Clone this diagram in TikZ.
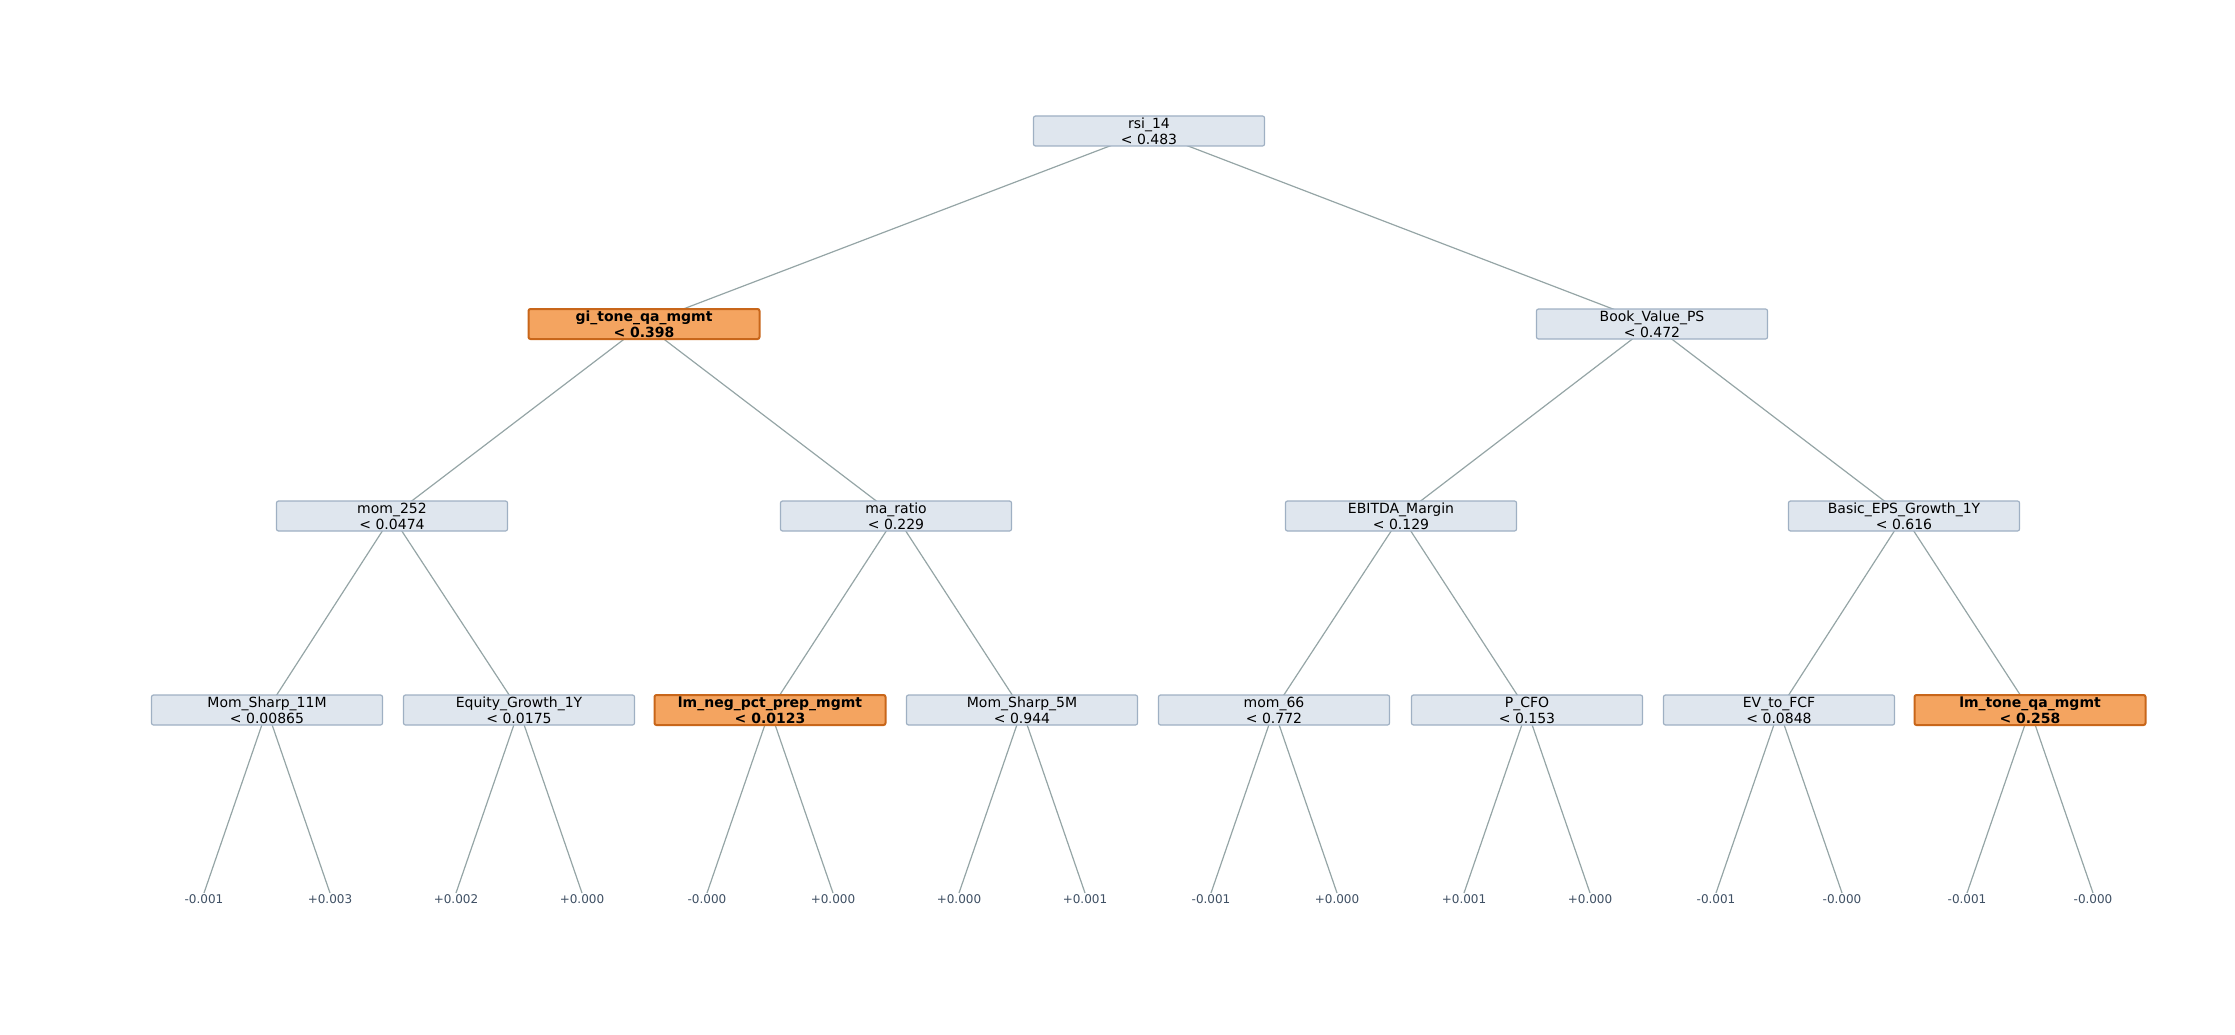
\documentclass[tikz,border=0pt]{standalone}
\usepackage{fontspec}
\setmainfont{DejaVu Sans}
\usetikzlibrary{backgrounds}
\definecolor{boxfill}{HTML}{DFE6EE}
\definecolor{boxline}{HTML}{9FB0C3}
\definecolor{hotfill}{HTML}{F4A460}
\definecolor{hotline}{HTML}{C8661A}
\definecolor{edgecol}{HTML}{95A5A6}
\definecolor{leafcol}{HTML}{3E4F63}
\tikzset{
  split/.style={draw=boxline, fill=boxfill, rounded corners=2pt, line width=1.2pt,
    minimum width=231pt, minimum height=30pt, inner sep=0pt, align=center,
    font=\fontsize{14}{16}\selectfont},
  hot/.style={split, draw=hotline, fill=hotfill, line width=2pt,
    font=\fontsize{14}{16}\selectfont\bfseries},
  leaf/.style={text=leafcol, font=\fontsize{12}{14}\selectfont, inner sep=1pt},
  edge/.style={draw=edgecol, line width=1.2pt}
}
\begin{document}
\begin{tikzpicture}[x=1pt,y=-1pt]
  \useasboundingbox (0,0) rectangle (2235,1035);
  % splits
  \node[split] (root) at (1149,131) {rsi\_14\\< 0.483};
  \node[hot] (l) at (644,324) {gi\_tone\_qa\_mgmt\\< 0.398};
  \node[split] (r) at (1652,324) {Book\_Value\_PS\\< 0.472};
  \node[split] (ll) at (392,516) {mom\_252\\< 0.0474};
  \node[split] (lr) at (896,516) {ma\_ratio\\< 0.229};
  \node[split] (rl) at (1401,516) {EBITDA\_Margin\\< 0.129};
  \node[split] (rr) at (1904,516) {Basic\_EPS\_Growth\_1Y\\< 0.616};
  \node[split] (lll) at (267,710) {Mom\_Sharp\_11M\\< 0.00865};
  \node[split] (llr) at (519,710) {Equity\_Growth\_1Y\\< 0.0175};
  \node[hot] (lrl) at (770,710) {lm\_neg\_pct\_prep\_mgmt\\< 0.0123};
  \node[split] (lrr) at (1022,710) {Mom\_Sharp\_5M\\< 0.944};
  \node[split] (rll) at (1274,710) {mom\_66\\< 0.772};
  \node[split] (rlr) at (1527,710) {P\_CFO\\< 0.153};
  \node[split] (rrl) at (1779,710) {EV\_to\_FCF\\< 0.0848};
  \node[hot] (rrr) at (2030,710) {lm\_tone\_qa\_mgmt\\< 0.258};

  % leaves
  \foreach \p/\xa/\va/\vb in {lll/267/-0.001/+0.003, llr/519/+0.002/+0.000,
      lrl/770/-0.000/+0.000, lrr/1022/+0.000/+0.001, rll/1274/-0.001/+0.000,
      rlr/1527/+0.001/+0.000, rrl/1779/-0.001/-0.000, rrr/2030/-0.001/-0.000} {
    \node[leaf, anchor=north] (\p a) at (\xa-63,893) {\va};
    \node[leaf, anchor=north] (\p b) at (\xa+63,893) {\vb};
    \begin{scope}[on background layer]
      \draw[edge] (\p.center) -- (\p a.north);
      \draw[edge] (\p.center) -- (\p b.north);
    \end{scope}
  }

  \begin{scope}[on background layer]
    \foreach \a/\b in {root/l, root/r, l/ll, l/lr, r/rl, r/rr,
        ll/lll, ll/llr, lr/lrl, lr/lrr, rl/rll, rl/rlr, rr/rrl, rr/rrr}
      \draw[edge] (\a.center) -- (\b.center);
  \end{scope}
\end{tikzpicture}
\end{document}
